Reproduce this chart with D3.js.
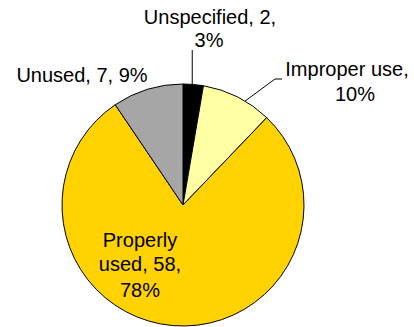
<!DOCTYPE html>
<html>
<head>
<meta charset="utf-8">
<script src="https://cdn.jsdelivr.net/npm/d3@7"></script>
<style>
  html, body { margin: 0; padding: 0; background: #fff; }
  svg { display: block; }
  text { font-family: "Liberation Sans", Arial, sans-serif; font-size: 20px; fill: #000; }
</style>
</head>
<body>
<svg id="chart" width="414" height="327"></svg>
<script>
// Usage categories, counts and the rounded shares shown in the labels
const categories = ["Unspecified", "Improper use", "Properly used", "Unused"];
const counts = [2, 7, 58, 7];
const percents = [3, 10, 78, 9];
const colors = ["#000000", "#FFFFA3", "#FFD200", "#A6A6A6"];

const svg = d3.select("#chart");
const cx = 183, cy = 205, r = 121;
const g = svg.append("g").attr("transform", `translate(${cx},${cy})`);

const pie = d3.pie().sort(null).value(d => d.count);
const data = categories.map((c, i) => ({ name: c, count: counts[i], pct: percents[i], color: colors[i] }));
const arcs = pie(data);
const arc = d3.arc().innerRadius(0).outerRadius(r);

g.selectAll("path.slice")
  .data(arcs)
  .enter().append("path")
  .attr("class", "slice")
  .attr("d", arc)
  .attr("fill", d => d.data.color)
  .attr("stroke", "#000")
  .attr("stroke-width", 1)
  .attr("stroke-linejoin", "round");

// point on the rim at a fraction along a slice
function rim(a, t) {
  const ang = a.startAngle + (a.endAngle - a.startAngle) * t;
  return [r * Math.sin(ang), -r * Math.cos(ang)];
}

// label layout: lines, anchor position (relative to pie centre)
const labelSpecs = [
  { lines: [`${categories[0]}, ${counts[0]},`, `${percents[0]}%`], x: [27, 26], y: [-181, -158] },
  { lines: [`${categories[1]},`, `${percents[1]}%`], x: [164, 172], y: [-129, -104] },
  { lines: [categories[2].split(" ")[0], `used, ${counts[2]},`, `${percents[2]}%`], x: [-43, -43, -43], y: [42, 66, 92] },
  { lines: [`${categories[3]}, ${counts[3]}, ${percents[3]}%`], x: [-101], y: [-123] }
];

labelSpecs.forEach(spec => {
  const t = g.append("text").attr("text-anchor", "middle");
  spec.lines.forEach((ln, i) => {
    t.append("tspan").attr("x", spec.x[i]).attr("y", spec.y[i]).text(ln);
  });
});

// leader lines
const line = d3.line();
const p0 = rim(arcs[0], 0.45);
g.append("path")
  .attr("d", line([[p0[0], -155], p0]))
  .attr("fill", "none").attr("stroke", "#000").attr("stroke-width", 1);

const p1 = rim(arcs[1], 0.62);
g.append("path")
  .attr("d", line([p1, [92, -126], [99, -126]]))
  .attr("fill", "none").attr("stroke", "#000").attr("stroke-width", 1);
</script>
</body>
</html>
